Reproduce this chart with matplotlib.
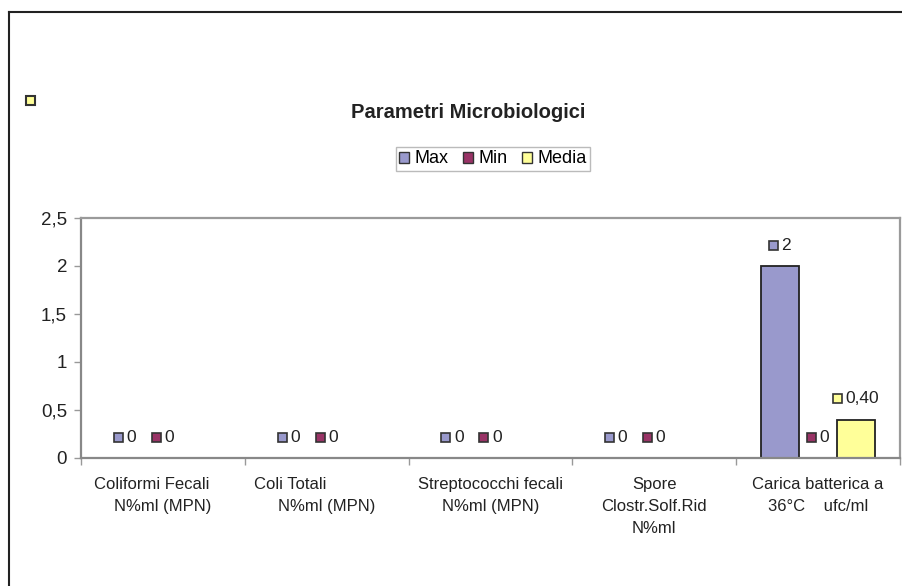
import numpy as np
import matplotlib
matplotlib.use("Agg")
import matplotlib.pyplot as plt
from matplotlib.patches import Rectangle
from matplotlib.lines import Line2D
from matplotlib.offsetbox import DrawingArea, TextArea, HPacker, AnnotationBbox

plt.rcParams['font.family'] = ['Liberation Sans', 'DejaVu Sans']

# --- data -------------------------------------------------------------
categories = [
    "Coliformi Fecali     \nN%ml (MPN)",
    "Coli Totali                \nN%ml (MPN)",
    "Streptococchi fecali\nN%ml (MPN)",
    "Spore\nClostr.Solf.Rid\nN%ml",
    "Carica batterica a\n36°C    ufc/ml",
]
series_names = ["Max", "Min", "Media"]
max_values = [0, 0, 0, 0, 2]
min_values = [0, 0, 0, 0, 0]
media_values = [np.nan, np.nan, np.nan, np.nan, 0.40]
label_decimals = [0, 0, 2]
y_ticks = [0, 0.5, 1, 1.5, 2, 2.5]

colors = ["#9999CC", "#993366", "#FFFF99"]
edge = "#222222"

W, H = 903, 586
fig = plt.figure(figsize=(W / 100, H / 100), dpi=100)

ax = fig.add_axes([81 / W, 1 - 458 / H, (900 - 81) / W, (458 - 218) / H])

x = np.arange(len(categories))
bw = 0.232
offsets = [-bw, 0, bw]
all_values = [max_values, min_values, media_values]


def fmt(v, dec):
    return f"{v:.{dec}f}".replace(".", ",")


for vals, off, col, dec in zip(all_values, offsets, colors, label_decimals):
    vals = np.asarray(vals, dtype=float)
    ax.bar(x + off, vals, width=bw, color=col, edgecolor=edge, linewidth=1.3,
           zorder=2)
    for xi, v in zip(x, vals):
        if np.isnan(v):
            continue
        da = DrawingArea(6.5, 6.5, 0, 0)
        da.add_artist(Rectangle((0, 0), 6.5, 6.5, facecolor=col,
                                edgecolor="#333333", linewidth=1.2))
        ta = TextArea(fmt(v, dec), textprops=dict(fontsize=12.5, color="#222222"))
        pack = HPacker(children=[da, ta], sep=2.5, align="center", pad=0)
        ab = AnnotationBbox(pack, (xi + off, v), xybox=(0, 15),
                            boxcoords="offset points", frameon=False,
                            box_alignment=(0.5, 0.5), annotation_clip=False)
        ax.add_artist(ab)

ax.set_xlim(-0.5, len(categories) - 0.5)
ax.set_ylim(0, 2.5)
ax.set_yticks(y_ticks)
ax.set_yticklabels([fmt(t, 1).rstrip("0").rstrip(",") for t in y_ticks],
                   fontsize=13.5, color="#222222")

# tick marks at category boundaries, labels at category centres
ax.set_xticks(np.arange(-0.5, len(categories) + 0.5, 1.0))
ax.set_xticklabels([])
ax.set_xticks(x, minor=True)
ax.set_xticklabels(categories, minor=True, fontsize=12, color="#222222",
                   linespacing=1.55)
ax.tick_params(axis="x", which="minor", length=0, pad=14)
ax.tick_params(axis="x", which="major", length=5, color="#999999", width=1)
ax.tick_params(axis="y", length=5, color="#999999", width=1, pad=5)

for s in ax.spines.values():
    s.set_color("#9a9a9a")
    s.set_linewidth(1.6)
ax.spines["left"].set_color("#888888")
ax.spines["bottom"].set_color("#888888")

# title
fig.text(468 / W, 1 - 113 / H, "Parametri Microbiologici", ha="center",
         va="center", fontsize=14.5, fontweight="bold", color="#222222")

# legend
handles = [Rectangle((0, 0), 1, 1, facecolor=c, edgecolor="#333333",
                     linewidth=1.0) for c in colors]
leg = fig.legend(handles, series_names, loc="center",
                 bbox_to_anchor=(493 / W, 1 - 159 / H), ncol=3, fontsize=13,
                 frameon=True, fancybox=False, handlelength=0.55,
                 handleheight=0.55, handletextpad=0.3, columnspacing=0.8,
                 borderpad=0.2, borderaxespad=0)
leg.get_frame().set_edgecolor("#aaaaaa")
leg.get_frame().set_linewidth(1.0)

# small stray key marker at top-left
fig.patches.append(Rectangle((26 / W, 1 - 105 / H), 9 / W, 9 / H,
                             transform=fig.transFigure, facecolor="#FFFF99",
                             edgecolor="#333333", linewidth=1.5))

# outer frame (top and left sides)
fig.add_artist(Line2D([9 / W, 1.0], [1 - 12 / H, 1 - 12 / H],
                      transform=fig.transFigure, color="#222222", linewidth=1.5))
fig.add_artist(Line2D([9 / W, 9 / W], [0, 1 - 12 / H],
                      transform=fig.transFigure, color="#222222", linewidth=1.5))

fig.savefig("out.png", dpi=100)
